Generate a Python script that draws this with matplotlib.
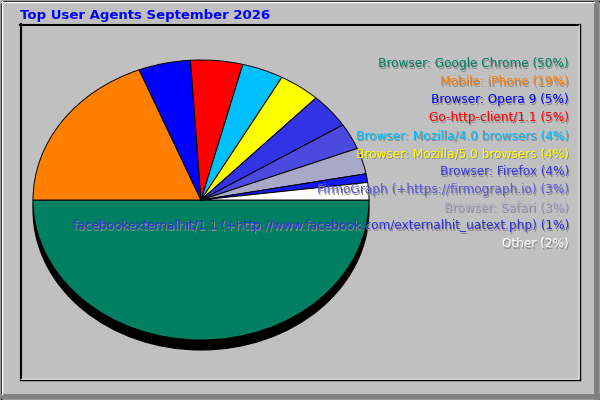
import matplotlib
matplotlib.use("Agg")
import matplotlib.pyplot as plt
from matplotlib.patches import Ellipse, Rectangle
from matplotlib.lines import Line2D

# chart data
title = "Top User Agents September 2026"
labels = ["Browser: Google Chrome", "Mobile: iPhone", "Browser: Opera 9",
          "Go-http-client/1.1", "Browser: Mozilla/4.0 browsers",
          "Browser: Mozilla/5.0 browsers", "Browser: Firefox",
          "FirmoGraph (+https://firmograph.io)", "Browser: Safari",
          "facebookexternalhit/1.1 (+http://www.facebook.com/externalhit_uatext.php)",
          "Other"]
percents = [50, 19, 5, 5, 4, 4, 4, 3, 3, 1, 2]
slice_colors = ["#008060", "#ff8000", "#0000ff", "#ff0000", "#00bfff",
                "#ffff00", "#3333e6", "#4a4ae0", "#a8a8c8", "#1818f0", "#ffffff"]
text_colors = ["#008060", "#ff8000", "#0000ff", "#ff0000", "#00bfff",
               "#ffff00", "#3a3ad8", "#5a5ad8", "#a8a8c8", "#3030d8", "#ffffff"]

W, H = 600, 400
fig = plt.figure(figsize=(6, 4), dpi=100)
fig.patch.set_facecolor("#c0c0c0")

def fx(px):
    return px / W

def fy(py):
    return 1 - py / H

# background frame drawn in pixel coords
bg = fig.add_axes([0, 0, 1, 1])
bg.set_xlim(0, W)
bg.set_ylim(H, 0)
bg.axis("off")
bg.add_patch(Rectangle((0, 0), W, H, facecolor="#c0c0c0", edgecolor="none"))
# outer 3d border
bg.add_line(Line2D([595.5, 595.5], [2, 397], color="#808080", lw=3.5))
bg.add_line(Line2D([2, 597], [395.5, 395.5], color="#808080", lw=3.5))
bg.add_line(Line2D([1, 594], [1.5, 1.5], color="white", lw=1))
bg.add_line(Line2D([1.5, 1.5], [1, 394], color="white", lw=1))
bg.add_patch(Rectangle((0.5, 0.5), 599, 399, facecolor="none", edgecolor="black", lw=1))
# inner inset frame
bg.add_line(Line2D([20, 579], [24.5, 24.5], color="black", lw=1.5))
bg.add_line(Line2D([20.5, 20.5], [24, 379], color="black", lw=1.5))
bg.add_line(Line2D([21, 578.5], [378.5, 378.5], color="white", lw=1))
bg.add_line(Line2D([578.5, 578.5], [25, 378.5], color="white", lw=1))
bg.add_line(Line2D([20, 580], [379.5, 379.5], color="black", lw=1))
bg.add_line(Line2D([579.5, 579.5], [24, 380], color="black", lw=1))

# pie, stretched to an ellipse: x 33..369, y 60..340
cx, cy, rx, ry = 201, 200, 168, 140
pax = fig.add_axes([fx(cx - rx), fy(cy + ry), 2 * rx / W, 2 * ry / H])
pax.add_patch(Ellipse((0, -10 / ry), 2, 2, facecolor="black", edgecolor="black",
                      lw=0.8, zorder=0, clip_on=False))
wedges, _ = pax.pie(percents, colors=slice_colors, startangle=0,
                    counterclock=False, radius=1, frame=True,
                    wedgeprops={"edgecolor": "black", "linewidth": 0.7})
for w in wedges:
    w.set_clip_on(False)
pax.set_xlim(-1, 1)
pax.set_ylim(-1, 1)
pax.set_aspect("auto")
pax.axis("off")

# title
fig.text(fx(20), fy(15), title, color="#0000ff", fontsize=9.5,
         fontweight="bold", ha="left", va="center")

# legend text with shadow
for i, (lab, p) in enumerate(zip(labels, percents)):
    y = 64 + i * 18
    s = "%s (%d%%)" % (lab, p)
    fig.text(fx(570), fy(y + 1), s, color="#8c8c8c", fontsize=8.7,
             ha="right", va="center")
    fig.text(fx(569), fy(y), s, color=text_colors[i], fontsize=8.7,
             ha="right", va="center")

fig.savefig("out.png", dpi=100, facecolor=fig.get_facecolor())
